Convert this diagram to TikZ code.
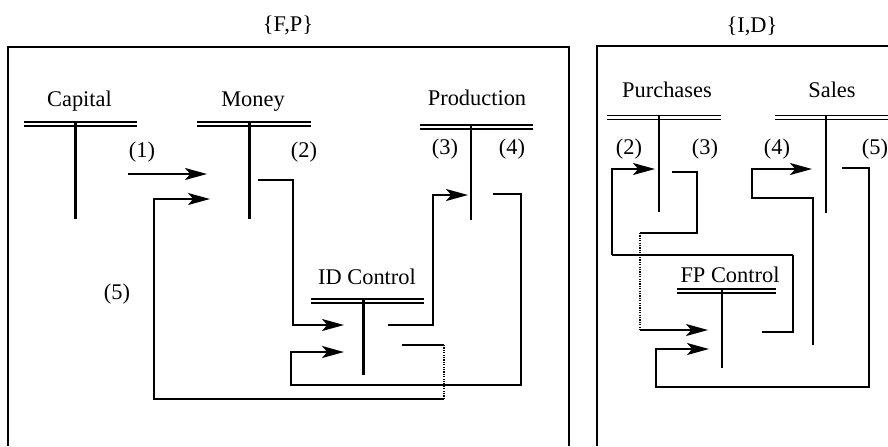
\documentclass[tikz,border=0pt]{standalone}
\usepackage{fontspec}
\setmainfont{Liberation Serif}
\usetikzlibrary{arrows.meta}

\begin{document}
\begin{tikzpicture}[x=0.5pt,y=-0.5pt,
  frame/.style={line width=1.4pt},
  dbl/.style={double, double distance=1.25pt, line width=0.65pt},
  stemthick/.style={line width=1.5pt},
  stemthin/.style={line width=1pt},
  flow/.style={line width=1pt},
  heavyflow/.style={line width=1.4pt},
  dotflow/.style={line width=1pt, dash pattern=on 0.6pt off 0.6pt},
  arr/.style={flow, -{Stealth[length=11pt,width=6pt,inset=2.6pt]}},
  lab/.style={font=\fontsize{11.2}{13}\selectfont, inner sep=0pt, anchor=base}]
\useasboundingbox (0,0) rectangle (888,446);

% ---- frames -------------------------------------------------------
\draw[frame] (8,446) -- (8,47) -- (569,47) -- (569,446);
\draw[frame] (597,446) -- (597,46) -- (888,46);
\node[lab] (fp) at (288,31) {\{F,P\}};
\node[lab] (id) at (752,32) {\{I,D\}};

% ---- T accounts, left frame -----------------------------------------
\node[lab] (capital) at (79.5,106) {Capital};
\draw[dbl] (24,124) -- (137,124);
\draw[stemthick] (75,121) -- (75,219);

\node[lab] (money) at (253,106) {Money};
\draw[dbl] (197,124) -- (311,124);
\draw[stemthick] (249,121) -- (249,219);

\node[lab] (production) at (477,105) {Production};
\draw[dbl] (420,127) -- (533,127);
\draw[stemthin] (471,124) -- (471,220);

\node[lab] (idcontrol) at (367,284) {ID Control};
\draw[dbl] (311,301) -- (424,301);
\draw[stemthick] (363,298) -- (363,375);

\node[lab] (n1) at (142,157) {(1)};
\node[lab] (n2) at (304,157) {(2)};
\node[lab] (n3) at (445,154) {(3)};
\node[lab] (n4) at (512,154) {(4)};
\node[lab] (n5) at (117,299) {(5)};

% ---- ports, left frame ---------------------------------------------
\coordinate (capOut)  at (128,174);
\coordinate (monIn1)  at (207,174);
\coordinate (monIn2)  at (210,199);
\coordinate (monOut)  at (258,180);
\coordinate (prodIn)  at (468,195);
\coordinate (prodOut) at (493,194);
\coordinate (idIn1)   at (344,325);
\coordinate (idIn2)   at (344,352);
\coordinate (idOut1)  at (388,325);
\coordinate (idOut2)  at (402,345);
\coordinate (loopCut) at (444,399);

% ---- flows, left frame ---------------------------------------------
\draw[arr] (capOut) -- (monIn1);
\draw[arr] (monOut) -- (293,180) |- (idIn1);
\draw[arr] (idOut1) -- (433,325) |- (prodIn);
\draw[arr] (prodOut) -- (521,194) -- (521,385) -| (291,352) -- (idIn2);
\draw[flow] (idOut2) -- (loopCut |- idOut2);
\draw[dotflow] (loopCut |- idOut2) -- (loopCut);
\draw[arr] (loopCut) -- (154,399) |- (monIn2);

% ---- T accounts, right frame ----------------------------------------
\node[lab] (purchases) at (667,97) {Purchases};
\draw[dbl] (607,117.5) -- (721,117.5);
\draw[stemthin] (659,115) -- (659,212);

\node[lab] (sales) at (832,97) {Sales};
\draw[dbl] (775,117.5) -- (888,117.5);
\draw[stemthin] (826,115) -- (826,213);

\node[lab] (fpcontrol) at (730,282) {FP Control};
\draw[dbl] (677,291) -- (776,291);
\draw[stemthin] (722,289) -- (722,368);

\node[lab] (r2) at (629,154) {(2)};
\node[lab] (r3) at (705,154) {(3)};
\node[lab] (r4) at (777,154) {(4)};
\node[lab] (r5) at (875,154) {(5)};

% ---- ports, right frame --------------------------------------------
\coordinate (purIn)   at (655,169);
\coordinate (purOut)  at (672,172);
\coordinate (salIn)   at (812,169);
\coordinate (salOut)  at (842,168);
\coordinate (salFeed) at (813,345);
\coordinate (fpIn1)   at (708,330);
\coordinate (fpIn2)   at (709,349);
\coordinate (fpOut)   at (762,332);
\coordinate (purCut)  at (640,233);

% ---- flows, right frame --------------------------------------------
\draw[flow] (purOut) -- (697,172) |- (purCut);
\draw[dotflow] (purCut) -- (purCut |- fpIn1);
\draw[arr] (purCut |- fpIn1) -- (fpIn1);
\draw[flow] (fpOut) -- (793,332) -- (793,255);
\draw[heavyflow] (793,255) -- (612,255);
\draw[arr] (612,255) |- (purIn);
\draw[arr] (salFeed) -- (813,198) -| (752,169) -- (salIn);
\draw[arr] (salOut) -- (869,168) -- (869,387) -| (656,349) -- (fpIn2);
\end{tikzpicture}
\end{document}
